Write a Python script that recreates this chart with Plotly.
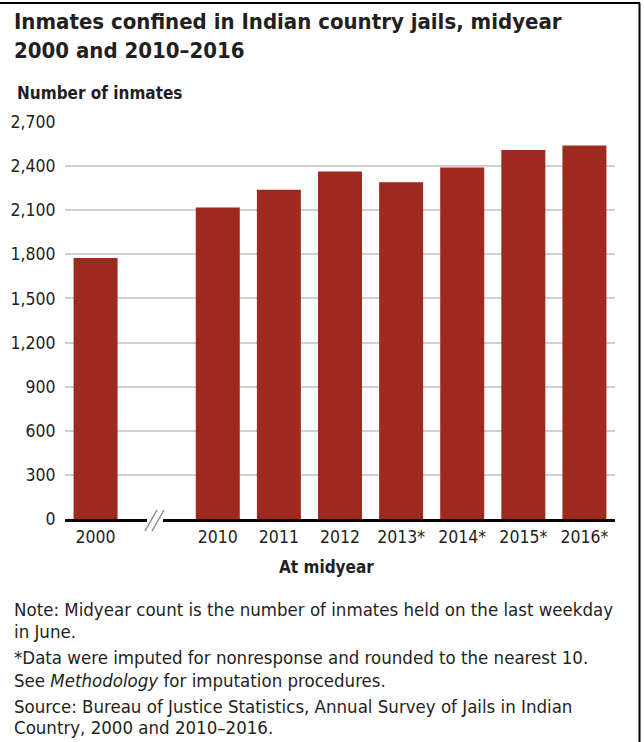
import plotly.graph_objects as go

# ---- data ----
categories = ["2000", " ", "2010", "2011", "2012", "2013*", "2014*", "2015*", "2016*"]
inmates = [1775, None, 2119, 2239, 2364, 2290, 2390, 2510, 2540]
y_ticks = [0, 300, 600, 900, 1200, 1500, 1800, 2100, 2400, 2700]
y_ticktext = ["0", "300", "600", "900", "1,200", "1,500", "1,800", "2,100", "2,400", "2,700"]

title_l1 = "Inmates confined in Indian country jails, midyear"
title_l2 = "2000 and 2010–2016"
y_title = "Number of inmates"
x_title = "At midyear"
notes = [
    "Note: Midyear count is the number of inmates held on the last weekday",
    "in June.",
    "*Data were imputed for nonresponse and rounded to the nearest 10.",
    "See <i>Methodology</i> for imputation procedures.",
    "Source: Bureau of Justice Statistics, Annual Survey of Jails in Indian",
    "Country, 2000 and 2010–2016.",
]

W, H = 644, 742
L, R, T, B = 65, 615, 122, 519
FONT = "DejaVu Sans Condensed, Liberation Sans Narrow, sans-serif"
BAR = "#9e2a1f"
TXT = "#231f20"


def px(x):
    return (x - L) / (R - L)


def py(y):
    return (B - y) / (B - T)


fig = go.Figure()
fig.add_trace(go.Bar(x=categories, y=inmates, marker=dict(color=BAR, line=dict(width=0)),
                     hoverinfo="x+y"))

fig.update_layout(
    template="none",
    width=W, height=H,
    margin=dict(l=L, r=W - R, t=T, b=H - B, pad=0),
    paper_bgcolor="white", plot_bgcolor="white",
    showlegend=False,
    bargap=0.28,
    font=dict(family=FONT, color=TXT, size=17.5),
)
fig.update_xaxes(
    type="category", categoryorder="array", categoryarray=categories,
    showgrid=False, showline=True, linecolor="black", linewidth=2.5,
    ticks="", automargin=False,
    tickfont=dict(size=17.5, color=TXT), range=[-0.5, 8.5], fixedrange=True,
)
fig.update_yaxes(
    range=[0, 2700], tickvals=y_ticks, ticktext=y_ticktext,
    showgrid=True, gridcolor="#cfcfcf", gridwidth=1.5, automargin=False,
    showline=False, zeroline=False, ticks="outside", ticklen=5,
    tickcolor="rgba(0,0,0,0)", tickfont=dict(size=17.5, color=TXT), fixedrange=True,
)

ann = []
ann.append(dict(text="<b>" + title_l1 + "</b>", x=px(12), y=py(21), xanchor="left", yanchor="middle",
                font=dict(size=22, family=FONT, color=TXT)))
ann.append(dict(text="<b>" + title_l2 + "</b>", x=px(12), y=py(50), xanchor="left", yanchor="middle",
                font=dict(size=22, family=FONT, color=TXT)))
ann.append(dict(text="<b>" + y_title + "</b>", x=px(15), y=py(93), xanchor="left", yanchor="middle",
                font=dict(size=17, family=FONT, color=TXT)))
ann.append(dict(text="<b>" + x_title + "</b>", x=px(326), y=py(567), xanchor="center", yanchor="middle",
                font=dict(size=17, family=FONT, color=TXT)))
note_y = [609, 631, 657, 680, 706, 727]
for t, yy in zip(notes, note_y):
    ann.append(dict(text=t, x=px(12), y=py(yy), xanchor="left", yanchor="middle",
                    font=dict(size=18.5, family=FONT, color=TXT)))
for a in ann:
    a.update(xref="paper", yref="paper", showarrow=False, align="left")
fig.update_layout(annotations=ann)

shapes = [
    # axis break: white gap + two slash marks
    dict(type="rect", xref="paper", yref="paper", x0=px(147), x1=px(163), y0=py(516), y1=py(522),
         fillcolor="white", line=dict(width=0), layer="above"),
    dict(type="line", xref="paper", yref="paper", x0=px(145), y0=py(531), x1=px(157), y1=py(510),
         line=dict(color="#8a8a8a", width=1.5), layer="above"),
    dict(type="line", xref="paper", yref="paper", x0=px(152), y0=py(531), x1=px(164), y1=py(510),
         line=dict(color="#8a8a8a", width=1.5), layer="above"),
    # frame (top and right)
    dict(type="line", xref="paper", yref="paper", x0=px(0), y0=py(3), x1=px(640), y1=py(3),
         line=dict(color="black", width=2), layer="above"),
    dict(type="line", xref="paper", yref="paper", x0=px(639.5), y0=py(3), x1=px(639.5), y1=py(742),
         line=dict(color="black", width=2), layer="above"),
]
fig.update_layout(shapes=shapes)

fig.write_html(
    "out.html",
    config={"displayModeBar": False},
    post_script="document.body.style.margin='0';document.body.style.overflow='hidden';",
)
